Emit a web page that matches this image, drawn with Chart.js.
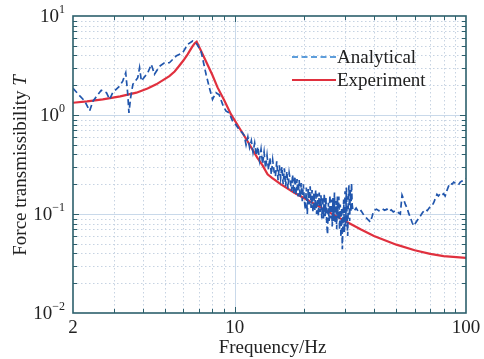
<!DOCTYPE html>
<html>
<head>
<meta charset="utf-8">
<script src="https://cdn.jsdelivr.net/npm/chart.js@4.4.1/dist/chart.umd.min.js"></script>
<style>
html,body{margin:0;padding:0;background:#fff;}
#wrap{width:484px;height:359px;}
</style>
</head>
<body>
<div id="wrap"><canvas id="c" width="484" height="359"></canvas></div>
<script>
// ---- data ----
const analyticalFreq = [2.0,2.14,2.25,2.36,2.44,2.65,2.79,2.88,2.97,3.18,3.28,3.38,3.45,3.49,3.55,3.63,3.81,3.88,3.95,4.21,4.36,4.50,4.73,4.97,5.22,5.58,5.96,6.27,6.58,6.80,7.15,7.52,7.77,8.02,8.30,8.57,8.87,9.16,9.47,9.79,10.1,10.5,10.8,
11.0,11.2,11.4,11.6,11.8,12.0,12.2,12.4,12.6,12.8,13.0,
13.2,13.4,13.6,13.8,14.0,14.2,14.4,14.6,14.8,15.0,15.2,15.4,15.6,15.8,16.0,
16.2,16.4,16.6,16.8,17.0,17.2,17.4,17.6,17.8,18.0,18.2,18.4,18.6,18.8,19.0,19.2,19.4,19.6,19.8,20.0,
20.2,20.4,20.6,20.8,21.0,21.2,21.4,21.6,21.8,22.0,22.2,22.4,22.6,22.8,23.0,23.2,23.4,23.6,23.8,24.0,
24.2,24.4,24.6,24.8,25.0,25.2,25.4,25.6,25.8,26.0,26.2,26.4,26.6,26.8,27.0,27.2,27.4,27.6,27.8,28.0,
28.2,28.4,28.6,28.8,29.0,29.2,29.4,29.6,29.8,30.0,30.2,30.4,30.6,30.8,31.0,31.2,31.4,31.6,31.8,32.0,32.2,32.4,
32.8,33.5,34.4,35.2,36.2,37.0,38.0,38.6,39.3,39.9,41.0,42.0,43.4,44.5,45.5,46.3,47.5,48.5,49.5,50.7,52.0,52.9,53.8,54.7,55.6,56.5,57.5,58.5,59.4,60.5,61.5,62.4,63.8,65.0,66.7,68.0,69.5,71.3,72.5,73.8,74.9,76.0,77.3,78.7,80.0,81.3,82.5,84.0,85.5,87.0,88.5,89.8,91.3,92.8,94.5,96.0,97.6,100];
const analyticalT = [1.86,1.56,1.38,1.10,1.38,1.78,1.68,1.44,1.68,1.96,2.2,2.67,1.62,1.05,1.5,2.04,2.38,3.0,2.2,2.67,3.25,2.58,3.1,3.37,3.37,3.94,4.26,5.18,5.6,5.37,4.43,2.58,1.89,1.44,1.68,1.6,1.28,1.1,1.05,0.87,0.80,0.70,0.66,
0.62,0.50,0.60,0.47,0.55,0.42,0.52,0.39,0.48,0.35,0.45,
0.32,0.42,0.29,0.39,0.28,0.37,0.25,0.35,0.27,0.24,0.34,0.22,0.31,0.23,0.30,
0.20,0.29,0.19,0.27,0.18,0.26,0.22,0.17,0.25,0.16,0.24,0.155,0.225,0.15,0.22,0.145,0.205,0.135,0.20,0.14,
0.11,0.185,0.10,0.18,0.125,0.19,0.115,0.175,0.105,0.165,0.11,0.175,0.10,0.16,0.095,0.165,0.105,0.155,0.09,0.15,
0.09,0.16,0.095,0.145,0.08,0.062,0.13,0.085,0.155,0.09,0.14,0.075,0.145,0.085,0.165,0.08,0.135,0.07,0.15,0.09,
0.15,0.07,0.125,0.058,0.115,0.044,0.09,0.14,0.065,0.17,0.075,0.185,0.095,0.06,0.145,0.195,0.085,0.175,0.105,0.205,0.125,0.112,
0.107,0.115,0.104,0.108,0.097,0.092,0.086,0.083,0.095,0.108,0.112,0.108,0.113,0.109,0.112,0.106,0.110,0.105,0.108,0.104,0.100,0.155,0.14,0.125,0.115,0.102,0.092,0.082,0.076,0.081,0.086,0.09,0.097,0.104,0.111,0.108,0.116,0.121,0.13,0.145,0.158,0.152,0.16,0.155,0.16,0.152,0.17,0.19,0.205,0.2,0.21,0.205,0.2,0.197,0.21,0.215,0.218,0.228];

const experimentFreq = [2.0,2.3,2.69,3.2,3.76,4.2,4.58,4.9,5.22,5.5,5.75,6.0,6.26,6.45,6.58,6.72,6.85,7.2,7.6,8.0,8.43,9.0,9.63,10.4,11.35,12.5,13.2,13.87,14.5,15.8,18.1,20,23,26,30,35,40,50,60,70,80,100];
const experimentT   = [1.33,1.37,1.44,1.54,1.68,1.85,2.04,2.25,2.47,2.75,3.13,3.55,4.1,4.6,4.97,5.3,5.5,4.3,3.3,2.55,1.9,1.42,1.02,0.76,0.546,0.373,0.31,0.252,0.232,0.20,0.164,0.144,0.12,0.102,0.085,0.070,0.060,0.049,0.043,0.0395,0.0375,0.036];

const xTickValues = [2,10,100];
const xTickLabels = ['2','10','100'];
const yTickValues = [10,1,0.1,0.01];
const yTickLabels = [['10','1'],['10','0'],['10','\u22121'],['10','\u22122']];
const seriesNames = ['Analytical','Experiment'];
const xTitle = 'Frequency/Hz';
const yTitle = ['Force transmissibility ','T'];

const toPts = (xs, ys) => xs.map((x,i)=>({x:x,y:ys[i]}));

const SERIF = '"Liberation Serif","DejaVu Serif",serif';
const TXT = '#222';

const decor = {
  id:'decor',
  beforeDatasetsDraw(chart){
    const {ctx, chartArea:a, scales:{x,y}} = chart;
    ctx.save();
    ctx.lineWidth = 1;
    for (let d of [1,10]) for (let m=1;m<=9;m++){
      const v=d*m; if (v<2||v>100) continue;
      const px = Math.round(x.getPixelForValue(v))+0.5;
      if (px<=a.left+1||px>=a.right-1) continue;
      const major = (v===10);
      ctx.strokeStyle = major ? '#c9d9ea' : '#c6d3e2';
      ctx.setLineDash(major?[]:[1.5,2.5]);
      ctx.beginPath(); ctx.moveTo(px,a.top); ctx.lineTo(px,a.bottom); ctx.stroke();
    }
    for (let d of [0.01,0.1,1]) for (let m=1;m<=9;m++){
      const v=d*m; 
      const py = Math.round(y.getPixelForValue(v))+0.5;
      if (py<=a.top+1||py>=a.bottom-1) continue;
      const major = (m===1);
      ctx.strokeStyle = major ? '#c9d9ea' : '#c6d3e2';
      ctx.setLineDash(major?[]:[1.5,2.5]);
      ctx.beginPath(); ctx.moveTo(a.left,py); ctx.lineTo(a.right,py); ctx.stroke();
    }
    ctx.restore();
  },
  afterDatasetsDraw(chart){
    const {ctx, chartArea:a, scales:{x,y}} = chart;
    ctx.save();
    ctx.setLineDash([]);
    const frame = '#2c5f6c';
    ctx.strokeStyle = frame;
    ctx.lineWidth = 1;
    for (let d of [1,10]) for (let m=1;m<=9;m++){
      const v=d*m; if (v<=2||v>=100) continue;
      const px = Math.round(x.getPixelForValue(v))+0.5;
      const L = (v===10)?6:4;
      ctx.beginPath();
      ctx.moveTo(px,a.bottom); ctx.lineTo(px,a.bottom-L);
      ctx.moveTo(px,a.top); ctx.lineTo(px,a.top+L);
      ctx.stroke();
    }
    for (let d of [0.01,0.1,1]) for (let m=1;m<=9;m++){
      const v=d*m; if (v<=0.01||v>=10) continue;
      const py = Math.round(y.getPixelForValue(v))+0.5;
      const L = (m===1)?6:4;
      ctx.beginPath();
      ctx.moveTo(a.left,py); ctx.lineTo(a.left+L,py);
      ctx.moveTo(a.right,py); ctx.lineTo(a.right-L,py);
      ctx.stroke();
    }
    ctx.lineWidth = 1.6;
    ctx.strokeRect(a.left, a.top, a.right-a.left, a.bottom-a.top);

    ctx.fillStyle = TXT;
    ctx.font = '19px '+SERIF;
    ctx.textAlign='center'; ctx.textBaseline='middle';
    xTickValues.forEach((v,i)=>{
      ctx.fillText(xTickLabels[i], x.getPixelForValue(v), a.bottom+15);
    });
    yTickValues.forEach((v,i)=>{
      const py = y.getPixelForValue(v);
      const [base,sup] = yTickLabels[i];
      ctx.font = '19px '+SERIF;
      const wb = ctx.measureText(base).width;
      ctx.font = '12px '+SERIF;
      const ws = ctx.measureText(sup).width;
      const right = a.left-8;
      ctx.textAlign='left'; ctx.textBaseline='middle';
      ctx.font = '19px '+SERIF;
      ctx.fillText(base, right-ws-wb, py+1);
      ctx.font = '12px '+SERIF;
      ctx.fillText(sup, right-ws, py-6);
    });
    ctx.font = '19px '+SERIF;
    ctx.textAlign='center'; ctx.textBaseline='middle';
    ctx.fillText(xTitle, (a.left+a.right)/2+3, 348);
    ctx.save();
    ctx.translate(21, (a.top+a.bottom)/2+1);
    ctx.rotate(-Math.PI/2);
    ctx.font = '19px '+SERIF;
    const w1 = ctx.measureText(yTitle[0]).width;
    ctx.font = 'italic 19px '+SERIF;
    const w2 = ctx.measureText(yTitle[1]).width;
    const start = -(w1+w2)/2;
    ctx.textAlign='left';
    ctx.font = '19px '+SERIF;
    ctx.fillText(yTitle[0], start, 0);
    ctx.font = 'italic 19px '+SERIF;
    ctx.fillText(yTitle[1], start+w1, 0);
    ctx.restore();

    const items = chart.data.datasets;
    const lx0 = 292, lx1 = 336, ly = [57, 80];
    items.forEach((ds,i)=>{
      ctx.save();
      ctx.strokeStyle = i===0 ? '#2a7fd0' : ds.borderColor;
      ctx.lineWidth = i===0 ? 1.6 : ds.borderWidth;
      ctx.setLineDash(ds.borderDash||[]);
      ctx.beginPath(); ctx.moveTo(lx0, ly[i]); ctx.lineTo(lx1, ly[i]); ctx.stroke();
      ctx.restore();
      ctx.fillStyle = TXT;
      ctx.font = '19px '+SERIF;
      ctx.textAlign='left'; ctx.textBaseline='middle';
      ctx.fillText(ds.label, lx1+1, ly[i]+1);
    });
    ctx.restore();
  }
};

new Chart(document.getElementById('c'), {
  type:'line',
  data:{
    datasets:[
      {label:seriesNames[0], data:toPts(analyticalFreq, analyticalT), borderColor:'#2156ad', borderWidth:1.7, borderDash:[6,3.5], pointRadius:0, tension:0, fill:false},
      {label:seriesNames[1], data:toPts(experimentFreq, experimentT), borderColor:'#e0303e', borderWidth:2.2, pointRadius:0, tension:0, fill:false}
    ]
  },
  options:{
    responsive:false, animation:false,
    layout:{padding:{left:73,right:18,top:16,bottom:46}},
    plugins:{legend:{display:false}, tooltip:{enabled:false}},
    scales:{
      x:{type:'logarithmic', min:2, max:100, display:false},
      y:{type:'logarithmic', min:0.01, max:10, display:false}
    }
  },
  plugins:[decor]
});
</script>
</body>
</html>
